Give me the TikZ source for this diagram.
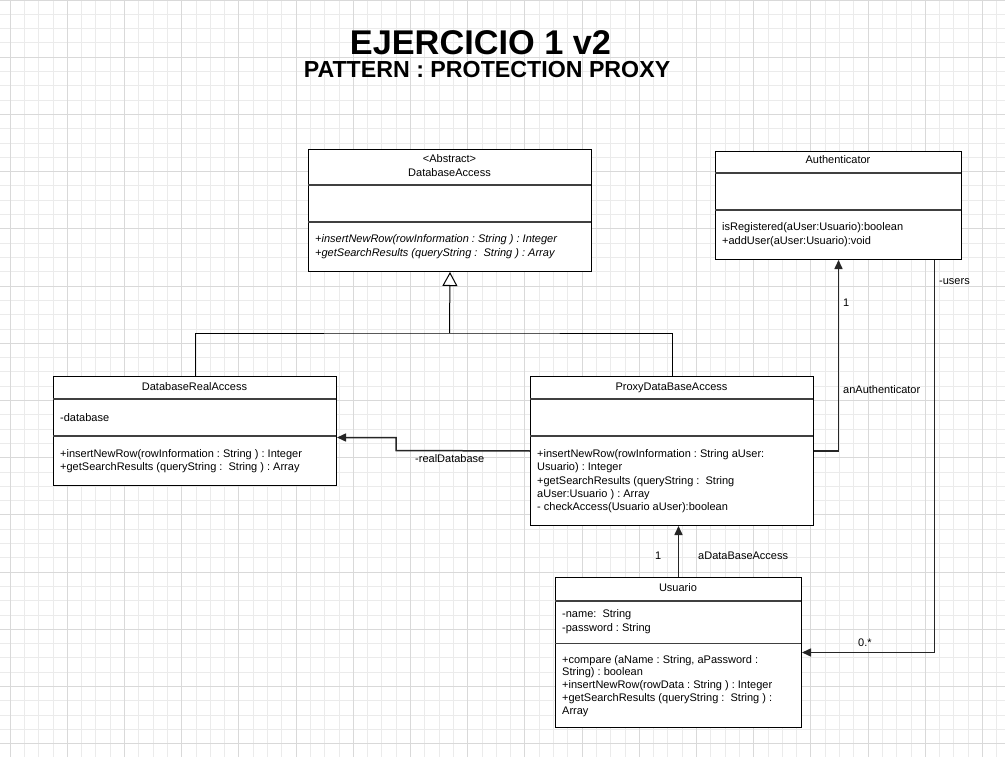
\documentclass[tikz,border=0pt]{standalone}
\usepackage{fontspec}
\setmainfont{Liberation Sans}
\usetikzlibrary{arrows.meta,calc}
\frenchspacing
\begin{document}
\frenchspacing
\begin{tikzpicture}[x=1pt,y=-1pt,
  minorgrid/.style={draw=black!8, line width=0.8pt},
  majorgrid/.style={draw=black!15, line width=0.9pt},
  classbox/.style={draw=black, line width=1pt, fill=white, inner sep=0pt, anchor=north west},
  divider/.style={draw=black!75, line width=1.6pt},
  txt/.style={font=\fontsize{11}{13}\selectfont, inner sep=0pt, anchor=base west},
  ttl/.style={font=\fontsize{11}{13}\selectfont, inner sep=0pt, anchor=base},
  itxt/.style={txt, font=\fontsize{11}{13}\selectfont\itshape},
  assoc/.style={draw=black!85, line width=1.5pt, -{Triangle[length=9pt,width=8pt]}},
  gen/.style={draw=black, line width=1pt},
  inherit/.style={draw=black, line width=1pt, -{Triangle[open,length=14pt,width=15pt,fill=white]}},
  lbl/.style={font=\fontsize{11}{13}\selectfont, inner sep=0pt, anchor=base west}
]
\useasboundingbox (0,0) rectangle (1005,757);
\fill[white] (0,0) rectangle (1005,757);
\begin{scope}
\clip (0,0) rectangle (1005,757);
\foreach \i in {-1,...,70} \draw[minorgrid] ({10+14.3*\i},0) -- ({10+14.3*\i},757);
\foreach \i in {0,...,53} \draw[minorgrid] (0,{14.3*\i}) -- (1005,{14.3*\i});
\foreach \i in {0,...,17} \draw[majorgrid] ({10+57.2*\i},0) -- ({10+57.2*\i},757);
\foreach \i in {0,...,13} \draw[majorgrid] (0,{57.2*\i}) -- (1005,{57.2*\i});
\end{scope}

% Titles
\node[inner sep=0pt, anchor=base, font=\fontsize{34.3}{36}\selectfont\bfseries] (title) at (480.5,55) {EJERCICIO 1 v2};
\node[inner sep=0pt, anchor=base, font=\fontsize{23.2}{25}\selectfont\bfseries] (subtitle) at (487,78) {PATTERN : PROTECTION PROXY};

% DatabaseAccess
\node[classbox, minimum width=283pt, minimum height=122pt] (da) at (308,149) {};
\draw[divider] (308,185) -- (591,185);
\draw[divider] (308,222) -- (591,222);
\node[ttl] (daA) at (449.5,163) {<Abstract>};
\node[ttl] (daN) at (449.5,177) {DatabaseAccess};
\node[itxt] (daM1) at (315,243) {+insertNewRow(rowInformation : String ) : Integer};
\node[itxt] (daM2) at (315,256) {+getSearchResults (queryString :\ \ String ) : Array};

% Authenticator
\node[classbox, minimum width=246pt, minimum height=108pt] (auth) at (715,151) {};
\draw[divider] (715,173) -- (961,173);
\draw[divider] (715,210) -- (961,210);
\node[ttl] (authN) at (838,164) {Authenticator};
\node[txt] (authM1) at (722,231) {isRegistered(aUser:Usuario):boolean};
\node[txt] (authM2) at (722,244) {+addUser(aUser:Usuario):void};

% DatabaseRealAccess
\node[classbox, minimum width=283pt, minimum height=109pt] (dra) at (53,376) {};
\draw[divider] (53,399) -- (336,399);
\draw[divider] (53,436) -- (336,436);
\node[ttl] (draN) at (194.5,390) {DatabaseRealAccess};
\node[txt] (draA) at (60,421) {-database};
\node[txt] (draM1) at (60,457) {+insertNewRow(rowInformation : String ) : Integer};
\node[txt] (draM2) at (60,470) {+getSearchResults (queryString :\ \ String ) : Array};

% ProxyDataBaseAccess
\node[classbox, minimum width=283pt, minimum height=149pt] (proxy) at (530,376) {};
\draw[divider] (530,399) -- (813,399);
\draw[divider] (530,436) -- (813,436);
\node[ttl] (proxyN) at (671.5,390) {ProxyDataBaseAccess};
\node[txt] (pM1) at (537,457) {+insertNewRow(rowInformation : String aUser:};
\node[txt] (pM2) at (537,470.5) {Usuario) : Integer};
\node[txt] (pM3) at (537,484) {+getSearchResults (queryString :\ \ String};
\node[txt] (pM4) at (537,497.5) {aUser:Usuario ) : Array};
\node[txt] (pM5) at (537,510) {- checkAccess(Usuario aUser):boolean};

% Usuario
\node[classbox, minimum width=246pt, minimum height=150pt] (usu) at (555,577) {};
\draw[divider] (555,601) -- (801,601);
\draw[divider] (555,643.5) -- (801,643.5);
\node[ttl] (usuN) at (678,591) {Usuario};
\node[txt] (uA1) at (562,617.5) {-name:\ \ String};
\node[txt] (uA2) at (562,631) {-password : String};
\node[txt] (uM1) at (562,663) {+compare (aName : String, aPassword :};
\node[txt] (uM2) at (562,675) {String) : boolean};
\node[txt] (uM3) at (562,688) {+insertNewRow(rowData : String ) : Integer};
\node[txt] (uM4) at (562,701.5) {+getSearchResults (queryString :\ \ String ) :};
\node[txt] (uM5) at (562,714.5) {Array};

% Generalization
\coordinate (junc) at (449.5,333);
\draw[gen] (dra.north) |- (junc) -| (proxy.north);
\draw[inherit] (junc) -- (da.south);

% realDatabase
\coordinate (rdBend) at (396,450.5);
\draw[assoc] (proxy.west) -- (rdBend) |- ([yshift=-6.5pt]dra.east);
\node[lbl] (rdL) at (415,462) {-realDatabase};

% anAuthenticator
\draw[assoc] (proxy.east) -| (auth.south);
\node[lbl] (aa1) at (843,306) {1};
\node[lbl] (aaL) at (843,393) {anAuthenticator};

% users
\draw[assoc] ([xshift=96pt]auth.south) |- (usu.east);
\node[lbl] (usL) at (939,284) {-users};
\node[lbl] (usM) at (858,646) {0.*};

% aDataBaseAccess
\draw[assoc] (usu.north) -- (usu.north |- proxy.south);
\node[lbl] (adb1) at (655,559) {1};
\node[lbl] (adbL) at (698,559) {aDataBaseAccess};
\end{tikzpicture}
\end{document}
